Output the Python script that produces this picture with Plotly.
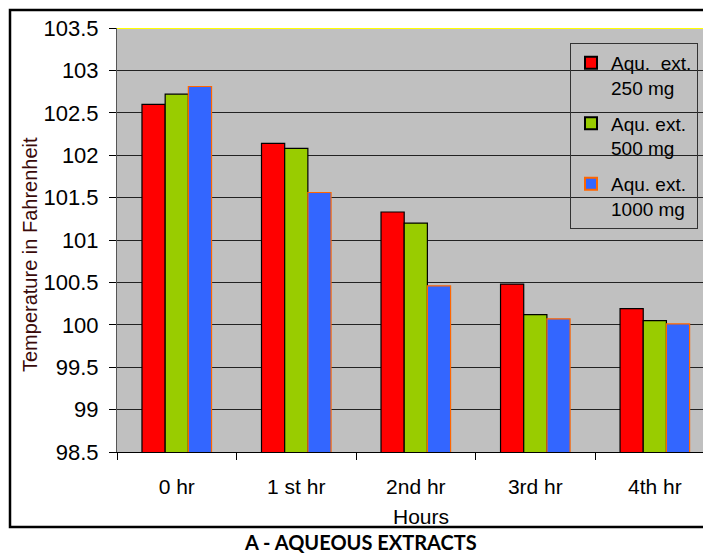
import plotly.graph_objects as go

categories = ["0 hr", "1 st hr", "2nd hr", "3rd hr", "4th hr"]
series_names = ["Aqu.  ext.<br>250 mg", "Aqu. ext.<br>500 mg", "Aqu. ext.<br>1000 mg"]
aq_250 = [102.60, 102.14, 101.33, 100.48, 100.19]
aq_500 = [102.72, 102.08, 101.20, 100.12, 100.05]
aq_1000 = [102.81, 101.56, 100.46, 100.07, 100.01]
y_tickvals = [98.5, 99, 99.5, 100, 100.5, 101, 101.5, 102, 102.5, 103, 103.5]
y_ticktext = ["98.5", "99", "99.5", "100", "100.5", "101", "101.5", "102", "102.5", "103", "103.5"]

fills = ["#FF0000", "#99CC00", "#3366FF"]
outlines = ["#000000", "#000000", "#FF6600"]

OFF = 8  # page body margin
W, H = 703, 548
L, R, T, B = 109, 0, 20, 104
pw, ph = W - L - R, H - T - B

def px(x):  # page x -> paper
    return (x - OFF - L) / pw

def py(y):  # page y -> paper
    return (H - B - (y - OFF)) / ph

fig = go.Figure()
for i, (name, vals, fc, lc) in enumerate(zip(series_names, [aq_250, aq_500, aq_1000], fills, outlines)):
    fig.add_trace(go.Bar(
        x=categories, y=vals, name=name, legendgroup="g%d" % i,
        marker=dict(color=fc, line=dict(color=lc, width=1.2)),
    ))

fig.update_layout(
    width=W, height=H,
    margin=dict(l=L, r=R, t=T, b=B),
    paper_bgcolor="white",
    plot_bgcolor="#C0C0C0",
    barmode="group",
    bargap=0.418,
    bargroupgap=0,
    font=dict(family="Liberation Sans, Arial, sans-serif", color="black"),
    showlegend=True,
    legend=dict(
        x=px(570), y=py(43), xanchor="left", yanchor="top",
        bgcolor="rgba(0,0,0,0)", bordercolor="#333333", borderwidth=1,
        font=dict(size=19, family="Liberation Sans, Arial, sans-serif"),
        tracegroupgap=8, itemsizing="constant", valign="top",
    ),
    xaxis=dict(
        type="category", range=[-0.5, 4.47],
        showline=True, linecolor="black", linewidth=1,
        ticks="outside", tickson="boundaries", ticklen=7, tickcolor="black",
        tickfont=dict(size=21), showgrid=False, ticklabelstandoff=16,
    ),
    yaxis=dict(
        range=[98.5, 103.5], tickvals=y_tickvals, ticktext=y_ticktext,
        showgrid=True, gridcolor="#222222", gridwidth=1,
        showline=True, linecolor="#555555", linewidth=1,
        ticks="outside", ticklen=7, tickcolor="black",
        tickfont=dict(size=22), zeroline=False, ticklabelstandoff=6,
    ),
)

# yellow top border of plot area
fig.add_shape(type="line", xref="paper", yref="y", x0=0, x1=1, y0=103.5, y1=103.5,
              line=dict(color="#FFFF00", width=2))
# outer chart frame
fig.add_shape(type="rect", xref="paper", yref="paper",
              x0=px(10), x1=px(716), y0=py(527), y1=py(10),
              line=dict(color="black", width=2.5), layer="above")

fig.add_annotation(text="Temperature in Fahrenheit", xref="paper", yref="paper",
                   x=px(30), y=py(255), textangle=-90, showarrow=False,
                   xanchor="center", yanchor="middle",
                   font=dict(size=20, color="#3a0a0a"))
fig.add_annotation(text="Hours", xref="paper", yref="paper",
                   x=px(421), y=py(517), showarrow=False,
                   xanchor="center", yanchor="middle", font=dict(size=21))
fig.add_annotation(text="<b>A - AQUEOUS EXTRACTS</b>", xref="paper", yref="paper",
                   x=px(360), y=py(555), showarrow=False,
                   xanchor="center", yanchor="bottom", borderpad=0,
                   font=dict(size=20, family="Lato, Open Sans, sans-serif"))

fig.write_html("out.html")
